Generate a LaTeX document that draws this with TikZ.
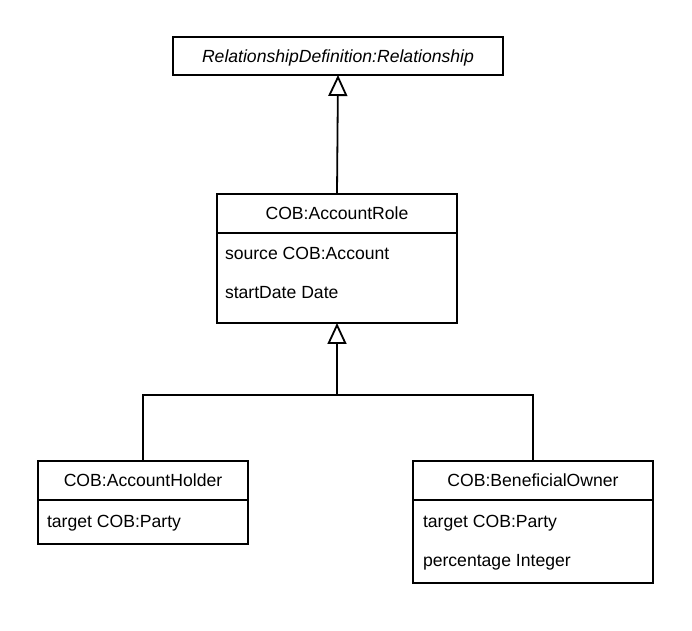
\documentclass[tikz,border=0pt]{standalone}
\usepackage{fontspec}
\setmainfont{Liberation Sans}
\usetikzlibrary{arrows.meta}

\begin{document}
\begin{tikzpicture}[x=0.5pt, y=-0.5pt, line width=0.9pt,
		font=\fontsize{8.8}{10.5}\selectfont]
	\useasboundingbox (0,0) rectangle (692,631);
	\begin{scope}[every node/.style = {rectangle, draw, inner sep=0pt, outer sep=0pt},
		head/.style = {minimum height=19.5pt, text height=6.3pt, text depth=0pt},
		body/.style = {anchor=north},
		attr/.style = {draw=none, anchor=base west}]
		\node [head, minimum width=165pt, minimum height=19pt, font=\fontsize{8.8}{10.5}\selectfont\itshape]
			(Rel) at (338,56) {RelationshipDefinition:Relationship};
		\node [head, minimum width=120pt] (Role) at (337,213.5) {COB:AccountRole};
		\node [body, minimum width=120pt, minimum height=45pt] (RoleA) at (Role.south) {};
		\node [head, minimum width=105pt] (Holder) at (143,480.5) {COB:AccountHolder};
		\node [body, minimum width=105pt, minimum height=22pt] (HolderA) at (Holder.south) {};
		\node [head, minimum width=120pt] (Owner) at (533,480.5) {COB:BeneficialOwner};
		\node [body, minimum width=120pt, minimum height=41.5pt] (OwnerA) at (Owner.south) {};
		% attributes
		\node [attr] (RoleA1) at (225,260) {source COB:Account};
		\node [attr] (RoleA2) at (225,299) {startDate Date};
		\node [attr] (HolderA1) at (47,527) {target COB:Party};
		\node [attr] (OwnerA1) at (423,527) {target COB:Party};
		\node [attr] (OwnerA2) at (423,566) {percentage Integer};
	\end{scope}
	\begin{scope}[>={Triangle[open, length=10.5pt, width=9.5pt]}]
		\coordinate (Fork) at (337,395);
		\draw [->] (Role.north) -- (Rel.south);
		\draw (Holder.north) |- (Fork);
		\draw (Owner.north) |- (Fork);
		\draw [->] (Fork) -- (RoleA.south);
	\end{scope}
\end{tikzpicture}
\end{document}
